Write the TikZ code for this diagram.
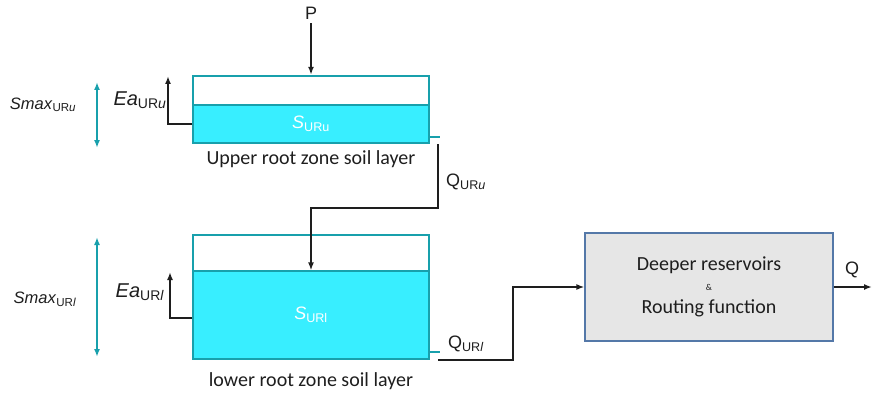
\documentclass[tikz,border=0pt]{standalone}
\usepackage{fontspec}
\setmainfont{Carlito}
\newfontfamily\arialfont{Liberation Sans}
\usetikzlibrary{arrows.meta, positioning}
\definecolor{water}{RGB}{56,238,255}
\definecolor{tankline}{RGB}{24,160,172}
\definecolor{boxfill}{RGB}{230,230,230}
\definecolor{boxline}{RGB}{84,120,168}
\definecolor{ink}{RGB}{30,30,30}
\newcommand{\varlab}[2]{\textit{#1}\textsubscript{#2}}

\begin{document}
\begin{tikzpicture}[x=1pt, y=-1pt, >={Latex[length=8pt,width=6pt]}, line width=1.8pt,
  water/.style={fill=water, draw=tankline, line width=1.2pt, minimum width=236pt, inner sep=0pt, text=white, font=\arialfont\fontsize{18}{18}\selectfont},
  tank/.style={draw=tankline, line width=2.4pt, minimum width=236pt, inner sep=0pt},
  layertext/.style={text=ink, font=\fontsize{20}{20}\selectfont},
  var/.style={text=ink, font=\arialfont\fontsize{18}{18}\selectfont},
  ea/.style={text=ink, font=\arialfont\fontsize{20}{20}\selectfont},
  smax/.style={text=ink, font=\arialfont\fontsize{16.5}{16.5}\selectfont},
  smaxarrow/.style={<->, draw=tankline, line width=2pt},
  stub/.style={draw=tankline, line width=2pt}]
  \useasboundingbox (0,0) rectangle (872,393);

  % upper root zone
  \node[water, minimum height=38pt] (waterU) at (311,124) {\varlab{S}{URu}};
  \node[tank, minimum height=67pt] (tankU) at (311,109.5) {};
  \node[layertext] (layerU) at (311,159) {Upper root zone soil layer};
  \node[var] (P) at (311,13) {P};
  \node[ea] (eaUlab) at (140,100) {\varlab{Ea}{UR\textit{u}}};
  \node[smax] (smaxUlab) at (43,105) {\varlab{Smax}{UR\textit{u}}};
  \coordinate (eaU) at (168,76);
  \coordinate (smaxUtop) at (97,82);
  \coordinate (smaxUbot) at (97,148);
  \coordinate (outU) at (438,144);
  \node[var] (qUlab) at (466,182) {Q\textsubscript{UR\textit{u}}};

  % lower root zone
  \node[water, minimum height=88pt] (waterL) at (311,315) {\varlab{S}{URl}};
  \node[tank, minimum height=124pt] (tankL) at (311,297) {};
  \node[layertext] (layerL) at (311,381) {lower root zone soil layer};
  \node[ea] (eaLlab) at (140,292) {\varlab{Ea}{UR\textit{l}}};
  \node[smax] (smaxLlab) at (45,299) {\varlab{Smax}{UR\textit{l}}};
  \coordinate (eaL) at (170,272);
  \coordinate (smaxLtop) at (97,237);
  \coordinate (smaxLbot) at (97,357);
  \coordinate (outL) at (438,360);
  \node[var] (qLlab) at (466,344) {Q\textsubscript{UR\textit{l}}};

  % deeper reservoirs
  \node[fill=boxfill, draw=boxline, line width=1.2pt, minimum width=248pt, minimum height=108pt,
        align=center, text=ink, font=\fontsize{20}{20}\selectfont] (deep) at (709,287)
        {Deeper reservoirs\\[0pt]{\fontsize{9}{9}\selectfont\&}\\[3pt]Routing function};
  \node[var] (qlab) at (852,270) {Q};
  \coordinate (qEnd) at (872,287);

  % outlets
  \draw[stub] (tankU.east |- 0,137) -- ++(10,0);
  \draw[stub] (tankL.east |- 0,352) -- ++(10,0);

  \draw[smaxarrow] (smaxUtop) -- (smaxUbot);
  \draw[smaxarrow] (smaxLtop) -- (smaxLbot);

  \draw[->, ink] (P) -- (tankU.north);
  \draw[->, ink] (waterU.west) -| (eaU);
  \draw[->, ink] (waterL.west |- 0,318) -| (eaL);
  \draw[->, ink] (outU) -- (outU |- 0,208) -| (waterL.north);
  \draw[->, ink] (outL) -- (513,360) |- (deep.west);
  \draw[->, ink] (deep.east) -- (qEnd);
\end{tikzpicture}
\end{document}
